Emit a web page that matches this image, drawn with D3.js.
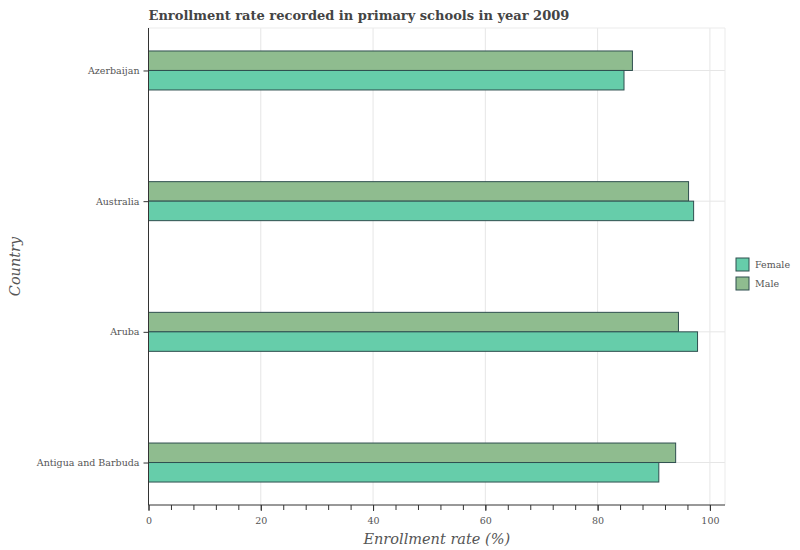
<!DOCTYPE html>
<html><head><meta charset="utf-8">
<script src="https://cdn.jsdelivr.net/npm/d3@7"></script>
<style>body{margin:0;background:#fff}</style>
</head><body>
<svg id="c" width="800" height="550"></svg>
<script>
const countries = ["Antigua and Barbuda", "Aruba", "Australia", "Azerbaijan"];
const series = ["Female", "Male"];
const femaleValues = [90.9, 97.8, 97.1, 84.7];
const maleValues = [93.9, 94.4, 96.2, 86.2];
const xTicks = [0, 20, 40, 60, 80, 100];
const colors = {Female: "#66cdaa", Male: "#8fbc8f"};

const svg = d3.select("#c");
const font = "DejaVu Serif";
const m = {l: 148.5, r: 725, t: 28, b: 505};
const xMax = Math.max(...femaleValues, ...maleValues) * 1.05;
const x = d3.scaleLinear().domain([0, xMax]).range([m.l, m.r]);
const y = d3.scalePoint().domain(countries).range([m.b, m.t]).padding(0.325);
const barH = 19.5;

// grid
svg.append("g").selectAll("line.gx").data(xTicks).join("line")
  .attr("x1", d => x(d)).attr("x2", d => x(d)).attr("y1", m.t).attr("y2", m.b)
  .attr("stroke", "#e6e6e6").attr("stroke-width", 1);
svg.append("g").selectAll("line.gy").data(countries).join("line")
  .attr("x1", m.l).attr("x2", m.r).attr("y1", d => y(d)).attr("y2", d => y(d))
  .attr("stroke", "#e6e6e6").attr("stroke-width", 1);
svg.append("line").attr("x1", m.r).attr("x2", m.r).attr("y1", m.t).attr("y2", m.b).attr("stroke", "#ebebeb");
svg.append("line").attr("x1", m.l).attr("x2", m.r).attr("y1", m.t).attr("y2", m.t).attr("stroke", "#ebebeb");

// bars
const rows = countries.map((c, i) => ({c, Female: femaleValues[i], Male: maleValues[i]}));
const g = svg.append("g");
rows.forEach(r => {
  g.append("rect").attr("x", x(0)).attr("y", y(r.c) - barH)
    .attr("width", x(r.Male) - x(0)).attr("height", barH)
    .attr("fill", colors.Male).attr("stroke", "#2f4f4f").attr("stroke-width", 1);
  g.append("rect").attr("x", x(0)).attr("y", y(r.c))
    .attr("width", x(r.Female) - x(0)).attr("height", barH)
    .attr("fill", colors.Female).attr("stroke", "#2f4f4f").attr("stroke-width", 1);
});

// x axis
const xa = svg.append("g").attr("transform", `translate(0,${m.b})`)
  .call(d3.axisBottom(x).tickValues(d3.range(0, xMax, 4)).tickSize(5).tickFormat(""));
xa.select(".domain").attr("stroke", "#333").attr("d", `M${m.l},0H${m.r}`);
xa.selectAll("line").attr("stroke", "#333");
const xa2 = svg.append("g").attr("transform", `translate(0,${m.b})`)
  .call(d3.axisBottom(x).tickValues(xTicks).tickSize(6).tickPadding(6));
xa2.select(".domain").remove();
xa2.selectAll("line").attr("stroke", "#333");
xa2.selectAll("text").attr("font-family", font).attr("font-size", 9.5).attr("fill", "#555");

// y axis
const ya = svg.append("g").attr("transform", `translate(${m.l},0)`)
  .call(d3.axisLeft(y).tickSize(5).tickPadding(4));
ya.select(".domain").attr("stroke", "#333").attr("d", `M0,${m.t}V${m.b}`);
ya.selectAll("line").attr("stroke", "#333");
ya.selectAll("text").attr("font-family", font).attr("font-size", 9.5).attr("fill", "#555");

// labels
svg.append("text").attr("x", m.l).attr("y", 20).text("Enrollment rate recorded in primary schools in year 2009")
  .attr("font-family", font).attr("font-weight", "bold").attr("font-size", 13).attr("fill", "#444");
svg.append("text").attr("x", (m.l + m.r) / 2).attr("y", 544).attr("text-anchor", "middle")
  .text("Enrollment rate (%)").attr("font-family", font).attr("font-style", "italic")
  .attr("font-size", 14.5).attr("fill", "#555");
svg.append("text").attr("transform", `translate(20,${(m.t + m.b) / 2}) rotate(-90)`).attr("text-anchor", "middle")
  .text("Country").attr("font-family", font).attr("font-style", "italic")
  .attr("font-size", 14.5).attr("fill", "#555");

// legend
const lg = svg.append("g").attr("transform", "translate(736,258)");
series.forEach((s, i) => {
  lg.append("rect").attr("x", 0).attr("y", i * 19).attr("width", 13).attr("height", 13)
    .attr("fill", colors[s]).attr("stroke", "#2f4f4f");
  lg.append("text").attr("x", 19).attr("y", i * 19 + 10).text(s)
    .attr("font-family", font).attr("font-size", 9.5).attr("fill", "#555");
});
</script>
</body></html>
